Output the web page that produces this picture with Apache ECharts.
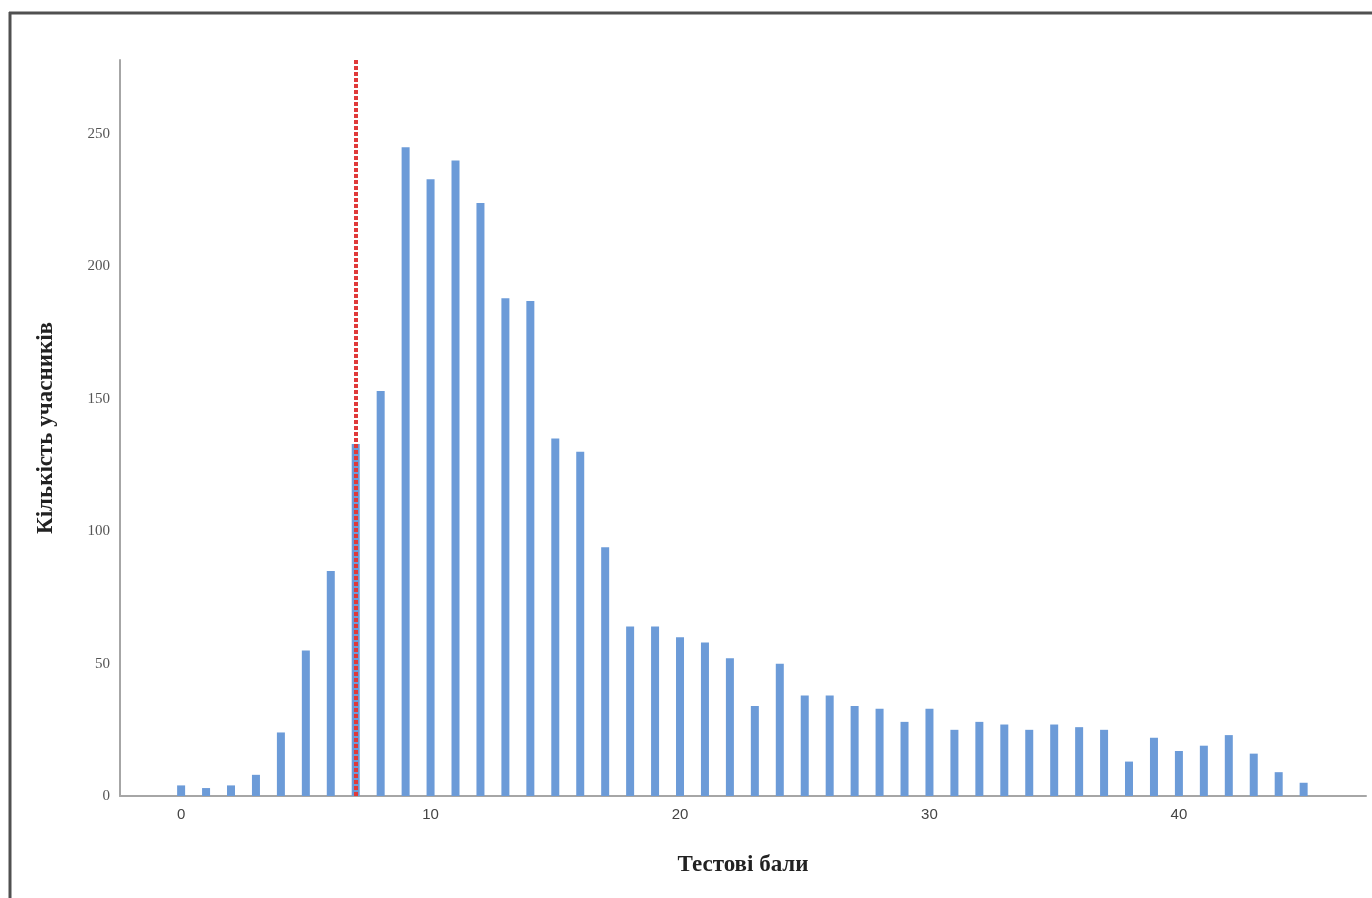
<!DOCTYPE html>
<html>
<head>
<meta charset="utf-8">
<script src="https://cdn.jsdelivr.net/npm/echarts@6/dist/echarts.min.js"></script>
<style>
html,body{margin:0;padding:0;background:#fff;}
#chart{width:1372px;height:898px;}
</style>
</head>
<body>
<div id="chart"></div>
<script>
var scores = [0,1,2,3,4,5,6,7,8,9,10,11,12,13,14,15,16,17,18,19,20,21,22,23,24,25,26,27,28,29,30,31,32,33,34,35,36,37,38,39,40,41,42,43,44,45];
var counts = [4,3,4,8,24,55,85,133,153,245,233,240,224,188,187,135,130,94,64,64,60,58,52,34,50,38,38,34,33,28,33,25,28,27,25,27,26,25,13,22,17,19,23,16,9,5];
var xTickLabels = [0,10,20,30,40];
var cutScore = 7;
var xTitle = 'Тестові бали';
var yTitle = 'Кількість учасників';

var chart = echarts.init(document.getElementById('chart'), null, {renderer:'canvas'});
var data = scores.map(function(s,i){return [s, counts[i]];});
chart.setOption({
  animation:false,
  backgroundColor:'#fff',
  grid:{left:120, right:6, top:60, bottom:102, containLabel:false},
  graphic:[
    {type:'line', shape:{x1:9, y1:13, x2:1372, y2:13}, style:{stroke:'#505050', lineWidth:3}},
    {type:'line', shape:{x1:10, y1:12, x2:10, y2:898}, style:{stroke:'#505050', lineWidth:3}}
  ],
  xAxis:{
    type:'value', min:-2.45, max:47.5,
    name:xTitle, nameLocation:'middle', nameGap:58,
    nameTextStyle:{fontFamily:'Liberation Serif', fontWeight:'bold', fontSize:23, color:'#222'},
    axisLine:{show:true, onZero:false, lineStyle:{color:'#a6a6a6', width:2}},
    axisTick:{show:false},
    splitLine:{show:false},
    axisLabel:{customValues:xTickLabels, margin:11, fontFamily:'Liberation Sans', fontSize:15, color:'#444'}
  },
  yAxis:{
    type:'value', min:0, max:278, interval:50,
    name:yTitle, nameLocation:'middle', nameGap:62, nameRotate:90,
    nameTextStyle:{fontFamily:'Liberation Serif', fontWeight:'bold', fontSize:23, color:'#222'},
    axisLine:{show:true, onZero:false, lineStyle:{color:'#a6a6a6', width:2}},
    axisTick:{show:false},
    splitLine:{show:false},
    axisLabel:{showMaxLabel:false, margin:10, fontFamily:'Liberation Serif', fontSize:15, color:'#555'}
  },
  series:[{
    type:'bar',
    data:data,
    barWidth:8,
    itemStyle:{color:'#6c9bd8'},
    markLine:{
      silent:true,
      symbol:['none','none'],
      label:{show:false},
      lineStyle:{color:'#e03a3a', width:4, type:[4,2], opacity:1},
      data:[{xAxis:cutScore}]
    }
  }]
});
</script>
</body>
</html>
